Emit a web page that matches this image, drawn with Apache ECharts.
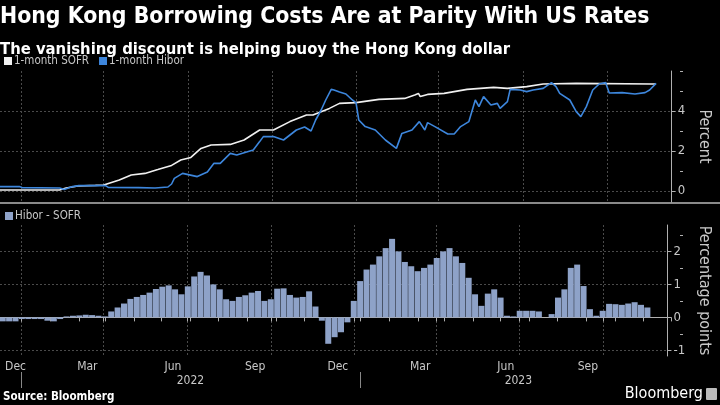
<!DOCTYPE html>
<html>
<head>
<meta charset="utf-8">
<script src="https://cdn.jsdelivr.net/npm/echarts@6/dist/echarts.min.js"></script>
<style>
html,body{margin:0;padding:0;background:#000;}
#c{width:720px;height:405px;}
</style>
</head>
<body>
<div id="c"></div>
<script>
// ---- Data ----
const titleText = 'Hong Kong Borrowing Costs Are at Parity With US Rates';
const subtitleText = 'The vanishing discount is helping buoy the Hong Kong dollar';
const sourceText = 'Source: Bloomberg';
const seriesNames = ['1-month SOFR', '1-month Hibor', 'Hibor - SOFR'];
const axisNames = ['Percent', 'Percentage points'];
const monthNames = ['Jan','Feb','Mar','Apr','May','Jun','Jul','Aug','Sep','Oct','Nov','Dec'];
const xMin = '2021-11-08';
const xMax = '2023-11-10';
const quarterTicks = ['2021-12-01','2022-03-01','2022-06-01','2022-09-01','2022-12-01','2023-03-01','2023-06-01','2023-09-01'];
const firstLabelDate = '2021-12-06';
const yearSeparators = ['2021-12-01','2022-12-01'];
const yearLabelDates = ['2022-06-01','2023-05-20'];
const topTicks = [0, 2, 4];
const bottomTicks = [-1, 0, 1, 2];

const sofr = [
 ['2021-11-08',0.05],['2022-01-12',0.05],['2022-01-19',0.15],['2022-02-01',0.25],['2022-02-20',0.28],
 ['2022-03-01',0.30],['2022-03-18',0.55],['2022-03-31',0.80],['2022-04-15',0.88],['2022-04-29',1.07],
 ['2022-05-14',1.28],['2022-05-24',1.55],['2022-06-04',1.68],['2022-06-15',2.13],['2022-06-26',2.30],
 ['2022-07-17',2.33],['2022-08-01',2.55],['2022-08-18',3.05],['2022-09-02',3.05],['2022-09-20',3.47],
 ['2022-10-08',3.80],['2022-10-15',3.80],['2022-11-02',4.13],['2022-11-13',4.38],['2022-12-01',4.42],
 ['2022-12-26',4.58],['2023-01-23',4.63],['2023-02-03',4.80],['2023-02-07',4.88],['2023-02-09',4.72],
 ['2023-02-17',4.83],['2023-03-07',4.88],['2023-04-01',5.08],['2023-04-30',5.18],['2023-05-15',5.13],
 ['2023-06-05',5.22],['2023-06-23',5.35],['2023-07-29',5.38],['2023-10-19',5.35],['2023-10-24',5.35]
];

const hibor = [
 ['2021-11-08',0.22],['2021-11-29',0.22],['2021-12-02',0.17],['2022-01-12',0.15],['2022-01-17',0.08],
 ['2022-01-26',0.22],['2022-02-02',0.27],['2022-03-03',0.27],['2022-03-06',0.18],['2022-04-08',0.17],
 ['2022-04-26',0.15],['2022-05-10',0.20],['2022-05-14',0.35],['2022-05-17',0.63],['2022-05-26',0.88],
 ['2022-06-11',0.72],['2022-06-22',0.95],['2022-06-29',1.38],['2022-07-06',1.38],['2022-07-17',1.88],
 ['2022-07-24',1.80],['2022-08-11',2.05],['2022-08-18',2.47],['2022-08-22',2.72],['2022-09-02',2.72],
 ['2022-09-13',2.55],['2022-09-20',2.80],['2022-09-27',3.05],['2022-10-06',3.20],['2022-10-13',3.00],
 ['2022-10-18',3.55],['2022-10-24',4.05],['2022-10-29',4.55],['2022-11-04',5.08],['2022-11-07',5.05],
 ['2022-11-13',4.95],['2022-11-20',4.85],['2022-11-27',4.55],['2022-12-01',4.42],['2022-12-04',3.55],
 ['2022-12-11',3.22],['2022-12-22',3.05],['2023-01-02',2.55],['2023-01-14',2.13],['2023-01-20',2.88],
 ['2023-01-31',3.05],['2023-02-08',3.47],['2023-02-14',3.05],['2023-02-17',3.42],['2023-02-25',3.22],
 ['2023-03-11',2.85],['2023-03-18',2.85],['2023-03-25',3.22],['2023-04-03',3.47],['2023-04-10',4.55],
 ['2023-04-14',4.22],['2023-04-19',4.72],['2023-04-27',4.30],['2023-05-04',4.38],['2023-05-07',4.13],
 ['2023-05-15',4.47],['2023-05-18',5.08],['2023-05-29',5.05],['2023-06-05',4.97],['2023-06-12',5.05],
 ['2023-06-23',5.13],['2023-07-02',5.42],['2023-07-07',5.22],['2023-07-11',4.88],['2023-07-22',4.55],
 ['2023-07-29',3.97],['2023-08-03',3.72],['2023-08-09',4.22],['2023-08-16',5.05],['2023-08-23',5.35],
 ['2023-08-30',5.42],['2023-09-03',4.90],['2023-09-17',4.92],['2023-10-01',4.85],['2023-10-12',4.92],
 ['2023-10-17',5.05],['2023-10-24',5.38]
];

// weekly observations starting 2021-11-11
const spreadStart = '2021-11-11';
const spread = [
 -0.12,-0.12,-0.12,-0.05,-0.05,-0.05,-0.05,-0.10,-0.12,-0.05,
 0.03,0.05,0.06,0.08,0.07,0.05,0.03,0.18,0.30,0.42,
 0.56,0.62,0.68,0.75,0.86,0.93,0.97,0.85,0.70,0.94,
 1.24,1.38,1.27,1.00,0.85,0.55,0.50,0.62,0.67,0.75,
 0.80,0.50,0.55,0.87,0.88,0.68,0.60,0.62,0.79,0.33,
 -0.10,-0.80,-0.60,-0.45,-0.15,0.50,1.10,1.45,1.60,1.85,
 2.10,2.38,2.00,1.68,1.55,1.40,1.50,1.60,1.80,2.00,
 2.10,1.85,1.65,1.20,0.70,0.35,0.72,0.85,0.60,0.05,
 0.03,0.20,0.20,0.20,0.18,0.00,0.10,0.60,0.85,1.50,
 1.60,0.95,0.25,0.05,0.20,0.41,0.40,0.38,0.42,0.46,
 0.38,0.30
];

// ---- Build ----
const ts = (s, addDays) => { const p = s.split('-').map(Number); return new Date(p[0], p[1] - 1, p[2] + (addDays || 0)).getTime(); };
const tsList = (arr) => arr.map((s) => ts(s));
const toXY = (arr) => arr.map((d) => [ts(d[0]), d[1]]);
const spreadData = spread.map((v, k) => [ts(spreadStart, 7 * k), v]);
const monthTicks = [];
for (let i = 0; i < 24; i++) monthTicks.push(new Date(2021, 11 + i, 1).getTime());
const X0 = ts(xMin), X1 = ts(xMax);
const monthFmt = (v) => monthNames[new Date(v).getMonth()];

const FONT = '"Liberation Sans Narrow", "DejaVu Sans Condensed", "Roboto Condensed", "Liberation Sans", sans-serif';
const TXT = '#c8c8c8';
const GRID_LINE = { color: '#4a4a4a', type: [2, 2], width: 1 };
const AXIS_LINE = { color: '#b0b0b0', width: 1 };

const gTop = { left: 0, right: 40, top: 71, height: 131 };
const gBot = { left: 0, right: 40, top: 225, height: 131 };
const gYear = { left: 0, right: 40, top: 225, height: 163 };

const chart = echarts.init(document.getElementById('c'), null, { renderer: 'canvas' });

const hiddenX = (gi) => ({ type: 'value', gridIndex: gi, min: X0, max: X1, show: false });
const hiddenY = (gi) => ({ type: 'value', gridIndex: gi, show: false });
const xLabelStyle = { color: TXT, fontSize: 12, fontFamily: FONT, align: 'right', margin: 5 };

chart.setOption({
  backgroundColor: '#000',
  animation: false,
  textStyle: { fontFamily: FONT },
  title: [
    { text: titleText, left: 0, top: 6, padding: 0,
      textStyle: { color: '#fff', fontSize: 22.8, fontWeight: 'bold', fontFamily: FONT } },
    { text: subtitleText, left: 0, top: 41, padding: 0,
      textStyle: { color: '#fff', fontSize: 16.5, fontWeight: 'bold', fontFamily: FONT } },
    { text: sourceText, left: 3, top: 391, padding: 0,
      textStyle: { color: '#fff', fontSize: 11.5, fontWeight: 'bold', fontFamily: FONT } },
    { text: 'Bloomberg', right: 17, top: 386, padding: 0,
      textStyle: { color: '#fff', fontSize: 16, fontWeight: 'normal', fontFamily: FONT } }
  ],
  legend: [
    { data: [seriesNames[0], seriesNames[1]], left: 4, top: 55, padding: 0,
      icon: 'rect', itemWidth: 8, itemHeight: 8, itemGap: 10,
      textStyle: { color: TXT, fontSize: 11.5, fontFamily: FONT, padding: [0, 0, 0, -3] } },
    { data: [seriesNames[2]], left: 5, top: 210, padding: 0,
      icon: 'rect', itemWidth: 8, itemHeight: 8,
      textStyle: { color: TXT, fontSize: 11.5, fontFamily: FONT, padding: [0, 0, 0, -3] } }
  ],
  grid: [gTop, gBot, gTop, gBot, gYear],
  xAxis: [
    { type: 'value', gridIndex: 0, min: X0, max: X1,
      axisLine: { show: false }, axisLabel: { show: false },
      axisTick: { show: false, customValues: tsList(quarterTicks) },
      splitLine: { show: true, lineStyle: GRID_LINE } },
    { type: 'value', gridIndex: 1, min: X0, max: X1, position: 'bottom',
      axisLine: { show: true, lineStyle: AXIS_LINE },
      axisTick: { show: true, customValues: tsList(quarterTicks), length: 4, lineStyle: AXIS_LINE },
      axisLabel: Object.assign({ show: true, customValues: tsList(quarterTicks.slice(1)),
        padding: [0, 5.5, 0, 0], formatter: monthFmt }, xLabelStyle),
      splitLine: { show: true, lineStyle: GRID_LINE } },
    hiddenX(2),
    { type: 'value', gridIndex: 3, min: X0, max: X1, position: 'bottom',
      axisLine: { show: false }, splitLine: { show: false },
      axisTick: { show: true, customValues: monthTicks, length: 4, lineStyle: AXIS_LINE },
      axisLabel: Object.assign({ show: true, customValues: [ts(firstLabelDate)], formatter: monthFmt }, xLabelStyle) },
    { type: 'value', gridIndex: 4, min: X0, max: X1, position: 'bottom',
      axisLine: { show: false }, splitLine: { show: false },
      axisTick: { show: true, inside: true, customValues: tsList(yearSeparators), length: 16, lineStyle: { color: '#888', width: 1 } },
      axisLabel: { show: true, inside: true, customValues: tsList(yearLabelDates), color: TXT, fontSize: 12, fontFamily: FONT, margin: 1,
        formatter: (v) => String(new Date(v).getFullYear()) } }
  ],
  yAxis: [
    { type: 'value', gridIndex: 0, position: 'right', min: -0.55, max: 6,
      name: axisNames[0], nameLocation: 'middle', nameRotate: -90, nameGap: 23,
      nameTextStyle: { color: TXT, fontSize: 16, fontFamily: FONT },
      axisLine: { show: true, lineStyle: AXIS_LINE },
      axisTick: { show: true, customValues: topTicks, length: 4, lineStyle: AXIS_LINE },
      axisLabel: { show: true, customValues: topTicks, color: TXT, fontSize: 13, fontFamily: FONT, margin: 6 },
      splitLine: { show: true, lineStyle: GRID_LINE } },
    { type: 'value', gridIndex: 1, position: 'right', min: -1.17, max: 2.8,
      name: axisNames[1], nameLocation: 'middle', nameRotate: -90, nameGap: 23,
      nameTextStyle: { color: TXT, fontSize: 16, fontFamily: FONT },
      axisLine: { show: true, lineStyle: AXIS_LINE },
      axisTick: { show: true, customValues: bottomTicks, length: 4, lineStyle: AXIS_LINE },
      axisLabel: { show: true, customValues: bottomTicks, color: TXT, fontSize: 13, fontFamily: FONT, margin: 6 },
      splitLine: { show: true, lineStyle: GRID_LINE } },
    { type: 'value', gridIndex: 2, position: 'right', min: -0.55, max: 6,
      axisLine: { show: false }, axisLabel: { show: false }, splitLine: { show: false },
      axisTick: { show: true, customValues: [1, 3, 5, 6], length: 3, lineStyle: AXIS_LINE } },
    { type: 'value', gridIndex: 3, position: 'right', min: -1.17, max: 2.8,
      axisLine: { show: false }, axisLabel: { show: false }, splitLine: { show: false },
      axisTick: { show: true, customValues: [-0.5, 0.5, 1.5, 2.5], length: 3, lineStyle: AXIS_LINE } },
    hiddenY(4)
  ],
  graphic: [
    { type: 'line', shape: { x1: 0, y1: 203, x2: 720, y2: 203 }, style: { stroke: '#8a8a8a', lineWidth: 2 }, silent: true },
    { type: 'rect', shape: { x: 706, y: 388, width: 11, height: 12, r: 1 }, style: { fill: '#bbb' }, silent: true }
  ],
  series: [
    { name: seriesNames[0], type: 'line', xAxisIndex: 0, yAxisIndex: 0, data: toXY(sofr),
      showSymbol: false, color: '#f0f0f0', lineStyle: { width: 1.6, color: '#f0f0f0' } },
    { name: seriesNames[1], type: 'line', xAxisIndex: 0, yAxisIndex: 0, data: toXY(hibor),
      showSymbol: false, color: '#3d86dc', lineStyle: { width: 1.6, color: '#3d86dc' } },
    { name: seriesNames[2], type: 'bar', xAxisIndex: 1, yAxisIndex: 1, data: spreadData,
      barWidth: 6, color: '#8ea2c8', itemStyle: { color: '#8ea2c8' } }
  ]
});
</script>
</body>
</html>
